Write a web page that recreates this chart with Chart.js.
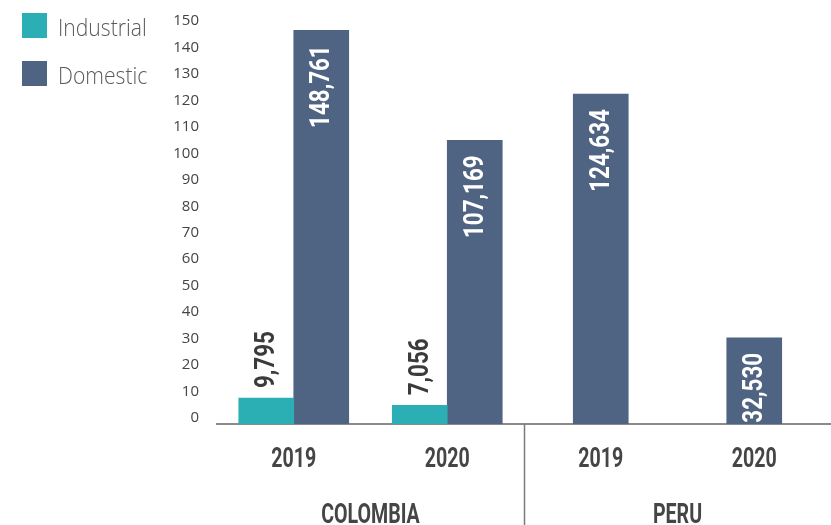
<!DOCTYPE html>
<html>
<head>
<meta charset="utf-8">
<script src="https://cdn.jsdelivr.net/npm/chart.js@4/dist/chart.umd.min.js"></script>
<style>
  html, body { margin: 0; padding: 0; background: #fff; }
</style>
</head>
<body>
<canvas id="chart1" width="831" height="525"></canvas>
<script>
// datos del grafico
const years = ['2019', '2020', '2019', '2020'];
const countries = ['COLOMBIA', 'PERU'];
const countryOf = [0, 0, 1, 1];
const industrial = [9795, 7056, null, null];
const domestic = [148761, 107169, 124634, 32530];
const yTicks = [0, 10, 20, 30, 40, 50, 60, 70, 80, 90, 100, 110, 120, 130, 140, 150];

const boldFont = 'bold 28px Roboto, "Liberation Sans", sans-serif';

// texto comprimido horizontalmente (imita una fuente condensada)
function narrowText(ctx, txt, x, y, sx) {
    ctx.save();
    ctx.translate(x, y);
    ctx.scale(sx, 1);
    ctx.fillText(txt, 0, 0);
    ctx.restore();
}

// etiquetas de valores, ejes, divisor y leyenda
const extrasPlugin = {
    id: 'extras',
    afterDatasetsDraw(chart) {
        const ctx = chart.ctx;
        ctx.save();
        ctx.font = boldFont;
        ctx.textBaseline = 'middle';
        chart.data.datasets.forEach((ds, di) => {
            const meta = chart.getDatasetMeta(di);
            meta.data.forEach((bar, i) => {
                const v = ds.data[i];
                if (v == null) return;
                const txt = v.toLocaleString('en-US');
                ctx.save();
                if (di === 1) {
                    ctx.translate(bar.x, bar.y + 15);
                    ctx.rotate(-Math.PI / 2);
                    ctx.textAlign = 'right';
                    ctx.fillStyle = '#ffffff';
                } else {
                    ctx.translate(bar.x, bar.y - 10);
                    ctx.rotate(-Math.PI / 2);
                    ctx.textAlign = 'left';
                    ctx.fillStyle = '#3b3b3b';
                }
                narrowText(ctx, txt, 0, 1, 0.8);
                ctx.restore();
            });
        });
        ctx.restore();
    },
    afterDraw(chart) {
        const ctx = chart.ctx;
        const xs = chart.scales.x;
        const area = chart.chartArea;
        ctx.save();

        // anos y nombres de pais
        ctx.font = boldFont;
        ctx.fillStyle = '#454545';
        ctx.textAlign = 'center';
        ctx.textBaseline = 'alphabetic';
        chart.data.labels.forEach((lab, i) => {
            narrowText(ctx, lab, xs.getPixelForTick(i), 467, 0.7);
        });
        countries.forEach((c, ci) => {
            const px = [];
            countryOf.forEach((k, i) => { if (k === ci) px.push(xs.getPixelForTick(i)); });
            const cx = px.reduce((a, b) => a + b, 0) / px.length;
            narrowText(ctx, c, cx, 523, 0.7);
        });

        // linea divisoria entre paises
        for (let i = 1; i < countryOf.length; i++) {
            if (countryOf[i] !== countryOf[i - 1]) {
                const dx = Math.round((xs.getPixelForTick(i) + xs.getPixelForTick(i - 1)) / 2) + 0.5;
                ctx.strokeStyle = '#7a7a7a';
                ctx.lineWidth = 1.5;
                ctx.beginPath();
                ctx.moveTo(dx, area.bottom);
                ctx.lineTo(dx, chart.height);
                ctx.stroke();
            }
        }

        // leyenda
        ctx.textAlign = 'left';
        ctx.font = '300 24px "Open Sans", sans-serif';
        chart.data.datasets.forEach((ds, di) => {
            const y = 13 + di * 48;
            ctx.fillStyle = ds.backgroundColor;
            ctx.fillRect(22, y, 25, 25);
            ctx.fillStyle = '#5a5a5a';
            narrowText(ctx, ds.label, 58, y + 23, 0.88);
        });
        ctx.restore();
    }
};

const ctx1 = document.getElementById('chart1').getContext('2d');
const chart1 = new Chart(ctx1, {
    type: 'bar',
    data: {
        labels: years,
        datasets: [{
            label: 'Industrial',
            data: industrial,
            backgroundColor: '#2baeb4',
            barThickness: 55,
            skipNull: true
        }, {
            label: 'Domestic',
            data: domestic,
            backgroundColor: '#4f6482',
            barThickness: 55,
            skipNull: true
        }]
    },
    options: {
        responsive: false,
        animation: false,
        devicePixelRatio: 1,
        layout: { padding: { top: 24, right: 0, left: 0, bottom: 0 } },
        plugins: {
            legend: { display: false },
            tooltip: { enabled: false }
        },
        scales: {
            x: {
                grid: { display: false, drawTicks: false },
                border: { display: true, color: '#8a8a8a', width: 2 },
                ticks: { display: false },
                afterFit(scale) { scale.height = 101; }
            },
            y: {
                min: 0,
                max: 150000,
                afterBuildTicks(scale) {
                    scale.ticks = yTicks.map(v => ({ value: v * 1000 }));
                },
                ticks: {
                    callback: v => v / 1000,
                    font: { family: '"Open Sans", sans-serif', size: 15 },
                    color: '#444444',
                    padding: 18,
                    labelOffset: -6
                },
                grid: { display: false, drawTicks: false },
                border: { display: false },
                afterFit(scale) { scale.width = 217; }
            }
        }
    },
    plugins: [extrasPlugin]
});
</script>
</body>
</html>
